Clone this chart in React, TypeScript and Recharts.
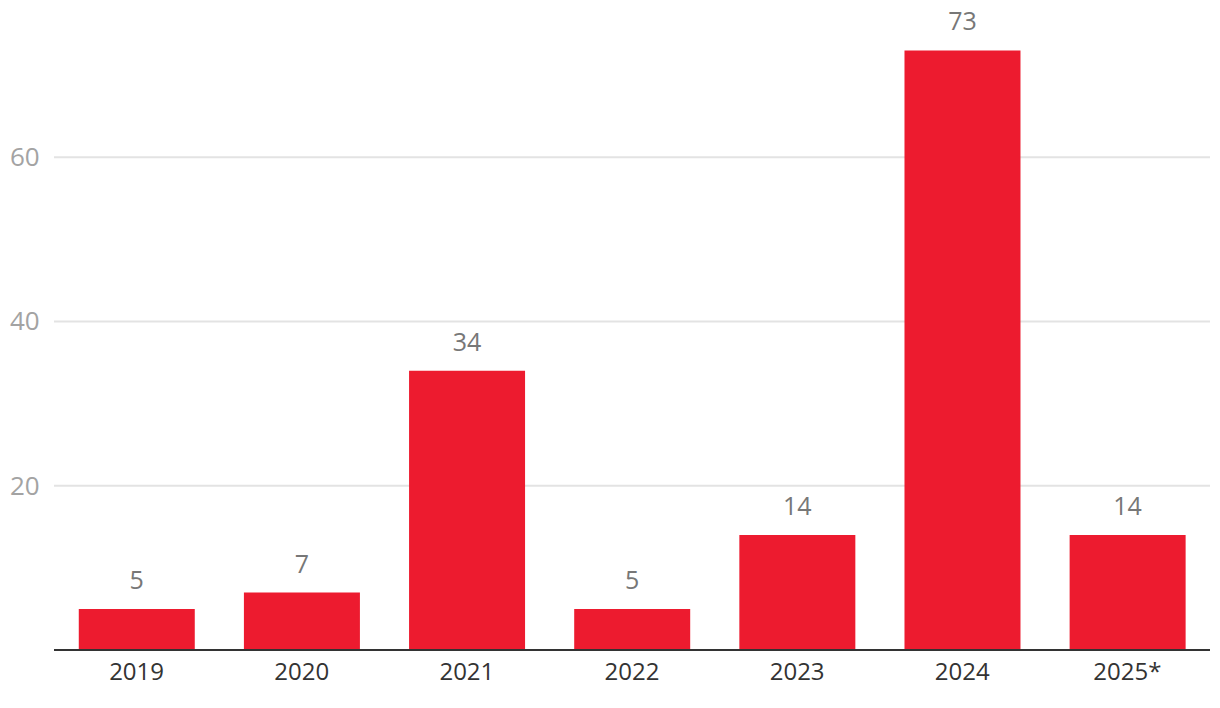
import { BarChart, Bar, XAxis, YAxis, CartesianGrid, LabelList } from 'recharts'

const years = ['2019', '2020', '2021', '2022', '2023', '2024', '2025*']
const counts = [5, 7, 34, 5, 14, 73, 14]
const yTicks = [20, 40, 60]

const data = years.map((year, i) => ({ year, count: counts[i] }))

const font = '"Open Sans", sans-serif'

function YTick({ y, payload }: any) {
  return (
    <text x={10} y={y} dy={9} textAnchor="start" fill="#a3a3a3" fontSize={26} fontFamily={font}>
      {payload.value}
    </text>
  )
}

export default function App() {
  return (
    <div style={{ position: 'absolute', left: 0, top: 0, width: 1220, height: 708, background: '#fff' }}>
      <BarChart
        width={1220}
        height={708}
        data={data}
        margin={{ top: 34, right: 10, left: 0, bottom: 28 }}
        barCategoryGap="15%"
      >
        <CartesianGrid vertical={false} horizontalValues={yTicks} stroke="#e3e3e3" strokeWidth={2} />
        <XAxis
          dataKey="year"
          axisLine={{ stroke: '#333', strokeWidth: 2 }}
          tickLine={false}
          height={30}
          tick={{ fill: '#333', fontSize: 24, fontFamily: font }}
          tickMargin={7}
        />
        <YAxis
          width={54}
          domain={[0, 75]}
          ticks={yTicks}
          axisLine={false}
          tickLine={false}
          tick={<YTick />}
        />
        <Bar dataKey="count" fill="#ED1B2F" isAnimationActive={false}>
          <LabelList dataKey="count" position="top" offset={20} fill="#777" fontSize={25} fontFamily={font} />
        </Bar>
      </BarChart>
    </div>
  )
}
